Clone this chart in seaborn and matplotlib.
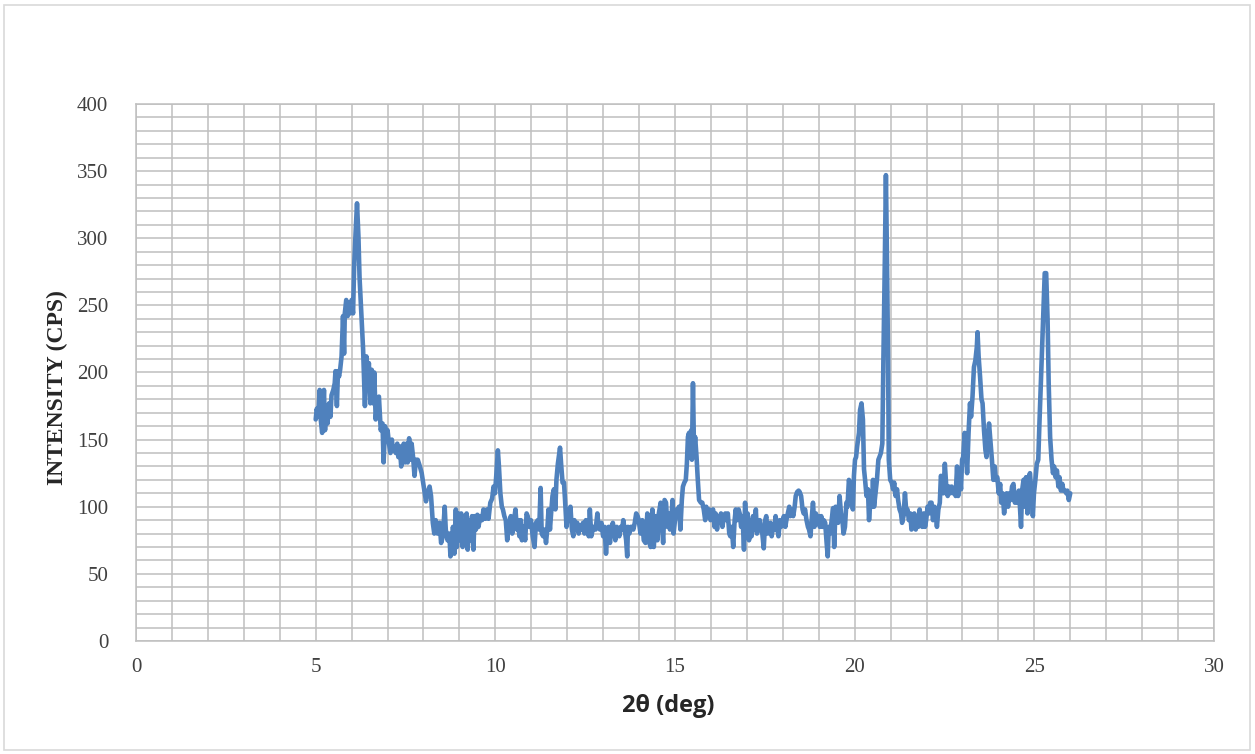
import numpy as np
import pandas as pd
import matplotlib
matplotlib.use("Agg")
import matplotlib.pyplot as plt
import seaborn as sns
from matplotlib.patches import Rectangle
from matplotlib.ticker import MultipleLocator

# XRD pattern, split into 3-degree pieces
theta_a = [5.00, 5.03, 5.07, 5.11, 5.14, 5.18, 5.23, 5.26, 5.29, 5.33, 5.37, 5.41, 5.44, 5.49, 5.53, 5.55, 5.59, 5.62, 5.65, 5.68,
           5.72, 5.76, 5.79, 5.81, 5.85, 5.89, 5.93, 5.96, 6.00, 6.04, 6.07, 6.11, 6.15, 6.19, 6.22, 6.28, 6.32, 6.35, 6.37, 6.41,
           6.45, 6.48, 6.52, 6.56, 6.60, 6.63, 6.67, 6.72, 6.76, 6.81, 6.86, 6.89, 6.93, 6.97, 7.00, 7.04, 7.08, 7.12, 7.15, 7.19,
           7.23, 7.27, 7.30, 7.34, 7.38, 7.41, 7.45, 7.49, 7.53, 7.56, 7.60, 7.64, 7.67, 7.71, 7.75, 7.79, 7.84, 7.90]
cps_a = [165, 173, 167, 187, 165, 155, 187, 157, 175, 162, 177, 167, 183, 187, 192, 201, 175, 201, 197, 202,
         212, 242, 214, 244, 254, 242, 252, 244, 254, 244, 279, 304, 326, 301, 271, 239, 217, 192, 175, 212,
         197, 207, 177, 202, 177, 200, 165, 180, 182, 157, 162, 133, 160, 152, 157, 147, 140, 150, 142, 145,
         140, 147, 137, 145, 130, 142, 147, 133, 147, 133, 151, 135, 147, 137, 123, 135, 135, 130]

theta_b = [7.95, 8.02, 8.07, 8.11, 8.17, 8.21, 8.26, 8.30, 8.34, 8.39, 8.45, 8.49, 8.54, 8.59, 8.62, 8.67, 8.72, 8.75, 8.79, 8.82,
           8.86, 8.90, 8.93, 8.97, 9.01, 9.05, 9.09, 9.12, 9.16, 9.20, 9.23, 9.27, 9.31, 9.35, 9.39, 9.42, 9.46, 9.50, 9.53, 9.58,
           9.63, 9.67, 9.72, 9.77, 9.81, 9.86, 9.91, 9.95, 9.99, 10.03, 10.07, 10.10, 10.14, 10.18, 10.21, 10.25, 10.29, 10.33, 10.36, 10.40,
           10.43, 10.47, 10.51, 10.56, 10.60, 10.63, 10.67, 10.71, 10.74, 10.79, 10.83, 10.87]
cps_b = [125, 113, 104, 110, 115, 108, 88, 80, 90, 80, 88, 73, 78, 100, 83, 75, 80, 63, 68, 85,
         65, 98, 70, 95, 75, 95, 70, 88, 78, 95, 68, 90, 75, 93, 68, 93, 83, 94, 85, 93,
         90, 98, 91, 98, 91, 103, 106, 115, 110, 125, 142, 130, 110, 100, 98, 93, 90, 75, 85, 83,
         93, 80, 88, 98, 83, 90, 78, 90, 75, 85, 75, 95]

theta_c = [10.90, 10.95, 10.99, 11.04, 11.09, 11.13, 11.18, 11.22, 11.26, 11.29, 11.33, 11.37, 11.41, 11.45, 11.48, 11.52, 11.56, 11.59, 11.63, 11.67,
           11.70, 11.74, 11.78, 11.80, 11.83, 11.87, 11.91, 11.94, 11.98, 12.02, 12.06, 12.09, 12.13, 12.17, 12.20, 12.24, 12.28, 12.32, 12.35, 12.39,
           12.44, 12.48, 12.52, 12.56, 12.60, 12.63, 12.67, 12.71, 12.74, 12.79, 12.84, 12.87, 12.91, 12.95, 13.00, 13.04, 13.08, 13.12, 13.15, 13.19,
           13.23, 13.27, 13.30, 13.34, 13.38, 13.41, 13.45, 13.49, 13.53, 13.56, 13.60, 13.64, 13.67, 13.69, 13.73, 13.77, 13.80, 13.84, 13.88]
cps_c = [93, 85, 90, 78, 70, 88, 90, 83, 114, 80, 78, 83, 73, 85, 98, 83, 98, 108, 113, 98,
         120, 132, 140, 144, 132, 118, 118, 105, 85, 98, 90, 100, 83, 78, 90, 83, 88, 80, 86, 83,
         88, 80, 90, 83, 78, 98, 78, 83, 85, 83, 95, 85, 83, 88, 78, 85, 65, 83, 85, 73,
         85, 88, 83, 75, 85, 83, 78, 85, 83, 90, 83, 75, 63, 85, 80, 85, 85, 83, 88]

theta_d = [13.92, 13.96, 13.99, 14.04, 14.09, 14.13, 14.18, 14.23, 14.27, 14.32, 14.37, 14.41, 14.46, 14.51, 14.55, 14.60, 14.64, 14.67, 14.71, 14.75,
           14.79, 14.82, 14.86, 14.90, 14.93, 14.96, 15.00, 15.04, 15.07, 15.11, 15.15, 15.19, 15.22, 15.26, 15.30, 15.33, 15.36, 15.39, 15.42, 15.45,
           15.47, 15.50, 15.53, 15.56, 15.60, 15.63, 15.67, 15.72, 15.76, 15.80, 15.84, 15.87, 15.91, 15.95, 15.99, 16.02, 16.06, 16.10, 16.13, 16.17,
           16.21, 16.25, 16.28, 16.32, 16.36, 16.40, 16.43, 16.47, 16.51, 16.54, 16.58, 16.62, 16.66, 16.69, 16.73, 16.77, 16.80, 16.84, 16.88, 16.92,
           16.95]
cps_d = [95, 93, 90, 80, 90, 75, 73, 95, 75, 70, 98, 70, 93, 75, 95, 103, 85, 73, 105, 103,
         85, 95, 83, 90, 105, 80, 90, 98, 93, 100, 83, 105, 115, 118, 120, 132, 152, 155, 137, 157,
         135, 192, 140, 152, 137, 122, 105, 103, 103, 98, 90, 100, 93, 98, 90, 95, 98, 85, 95, 83,
         93, 88, 95, 85, 93, 95, 90, 95, 80, 78, 85, 70, 90, 98, 90, 98, 95, 85, 93, 68,
         103]

theta_e = [16.99, 17.02, 17.06, 17.10, 17.13, 17.17, 17.21, 17.25, 17.28, 17.32, 17.36, 17.39, 17.43, 17.47, 17.51, 17.54, 17.58, 17.62, 17.66, 17.69,
           17.73, 17.77, 17.80, 17.84, 17.88, 17.92, 17.95, 17.99, 18.03, 18.07, 18.10, 18.14, 18.18, 18.21, 18.25, 18.29, 18.33, 18.36, 18.40, 18.44,
           18.47, 18.51, 18.55, 18.58, 18.62, 18.66, 18.70, 18.73, 18.77, 18.81, 18.84, 18.88, 18.92, 18.96, 19.00, 19.03, 19.07, 19.11, 19.14, 19.18,
           19.22, 19.25, 19.28, 19.32, 19.36, 19.40, 19.43, 19.47, 19.51, 19.54, 19.58, 19.62, 19.66, 19.69, 19.73, 19.77, 19.80, 19.84, 19.88, 19.92]
cps_e = [85, 95, 75, 90, 78, 93, 83, 98, 80, 85, 90, 85, 80, 69, 90, 93, 80, 85, 88, 78,
         85, 83, 93, 85, 78, 90, 85, 88, 93, 85, 90, 95, 100, 93, 98, 93, 100, 108, 111, 112,
         111, 108, 98, 95, 98, 90, 85, 83, 78, 93, 103, 85, 95, 88, 93, 85, 93, 85, 90, 88,
         73, 63, 85, 80, 90, 99, 70, 100, 93, 88, 108, 95, 90, 80, 85, 103, 100, 120, 115, 110]

theta_f = [19.95, 19.98, 20.01, 20.04, 20.07, 20.12, 20.15, 20.19, 20.23, 20.26, 20.29, 20.33, 20.37, 20.40, 20.44, 20.48, 20.51, 20.54, 20.58, 20.62,
           20.66, 20.69, 20.73, 20.77, 20.80, 20.84, 20.87, 20.90, 20.93, 20.95, 20.99, 21.03, 21.07, 21.10, 21.14, 21.18, 21.21, 21.25, 21.29, 21.32,
           21.36, 21.40, 21.44, 21.47, 21.51, 21.55, 21.58, 21.62, 21.66, 21.70, 21.73, 21.77, 21.81, 21.84, 21.88, 21.92, 21.96, 21.99, 22.03, 22.07,
           22.10, 22.14, 22.18, 22.22, 22.26, 22.29, 22.33, 22.37, 22.40, 22.44, 22.47, 22.51, 22.55, 22.59, 22.63, 22.66, 22.70, 22.74, 22.77, 22.81,
           22.85, 22.88, 22.93]
cps_f = [98, 123, 135, 137, 145, 155, 172, 177, 165, 128, 120, 108, 113, 90, 105, 100, 120, 100, 110, 120,
         135, 137, 140, 147, 210, 284, 347, 284, 210, 135, 120, 118, 113, 118, 108, 113, 105, 98, 95, 88,
         93, 110, 95, 98, 90, 95, 83, 85, 95, 83, 93, 85, 98, 88, 85, 95, 85, 90, 100, 95,
         103, 103, 90, 100, 93, 85, 98, 103, 123, 120, 110, 132, 115, 108, 115, 110, 115, 110, 113, 108,
         130, 108, 123]

theta_g = [22.96, 22.99, 23.02, 23.06, 23.09, 23.13, 23.17, 23.21, 23.24, 23.28, 23.32, 23.36, 23.40, 23.42, 23.45, 23.49, 23.53, 23.56, 23.60, 23.64,
           23.67, 23.71, 23.74, 23.79, 23.82, 23.86, 23.90, 23.93, 23.97, 24.01, 24.05, 24.08, 24.12, 24.16, 24.20, 24.23, 24.27, 24.31, 24.34, 24.38,
           24.42, 24.46, 24.49, 24.53, 24.57, 24.60, 24.63, 24.66, 24.70, 24.73, 24.77, 24.81, 24.84, 24.88, 24.92, 24.96, 24.99, 25.03, 25.07, 25.11,
           25.14, 25.18, 25.22, 25.26, 25.29, 25.33, 25.37, 25.40, 25.44, 25.48, 25.52, 25.55, 25.59, 25.63, 25.67, 25.70, 25.74, 25.78, 25.81, 25.85,
           25.89, 25.92, 25.96, 26.00]
cps_g = [113, 135, 137, 155, 145, 125, 155, 177, 167, 182, 204, 209, 219, 230, 212, 197, 180, 177, 157, 142,
         137, 152, 162, 145, 135, 120, 130, 120, 122, 110, 117, 103, 110, 95, 108, 110, 100, 110, 105, 115,
         117, 103, 110, 103, 112, 100, 85, 112, 120, 100, 122, 95, 122, 125, 110, 93, 110, 120, 132, 135,
         160, 190, 222, 252, 274, 274, 239, 192, 152, 135, 125, 130, 122, 127, 115, 122, 112, 117, 112, 112,
         110, 112, 105, 110]

df = pd.DataFrame({
    "two_theta": theta_a + theta_b + theta_c + theta_d + theta_e + theta_f + theta_g,
    "intensity": cps_a + cps_b + cps_c + cps_d + cps_e + cps_f + cps_g,
})

sns.set_style("white")
plt.rcParams['font.family'] = ['Liberation Serif', 'DejaVu Serif']

fig = plt.figure(figsize=(12.55, 7.54), dpi=100)
ax = fig.add_axes([0.1084, 0.1499, 0.8589, 0.7122])

sns.lineplot(data=df, x="two_theta", y="intensity", color="#4F81BD", linewidth=3.3,
             estimator=None, sort=False, ax=ax, zorder=3)

ax.set_xlim(0, 30)
ax.set_ylim(0, 400)
ax.xaxis.set_major_locator(MultipleLocator(5))
ax.xaxis.set_minor_locator(MultipleLocator(1))
ax.yaxis.set_major_locator(MultipleLocator(50))
ax.yaxis.set_minor_locator(MultipleLocator(10))
ax.grid(which="both", color="#bfbfbf", linewidth=1.1)
ax.set_axisbelow(True)
for s in ax.spines.values():
    s.set_color("#bfbfbf")
    s.set_linewidth(1.1)
ax.tick_params(which="both", length=0)
ax.tick_params(axis="y", pad=20, labelsize=15, labelcolor="#404040")
ax.tick_params(axis="x", pad=12, labelsize=15, labelcolor="#404040")

ax.set_ylabel("INTENSITY (CPS)", fontsize=17, fontweight="bold", va="center")
ax.set_xlabel("2θ (deg)", fontsize=17, fontweight="bold", family=["Open Sans", "DejaVu Sans"], va="center")
ax.yaxis.set_label_coords(-0.073, 0.471)
ax.xaxis.set_label_coords(0.4935, -0.121)

# light frame around the whole chart area
fig.patches.append(Rectangle((0.003, 0.005), 0.993, 0.989, transform=fig.transFigure,
                             fill=False, edgecolor="#d9d9d9", linewidth=1.2))

fig.savefig("out.png", dpi=100)
